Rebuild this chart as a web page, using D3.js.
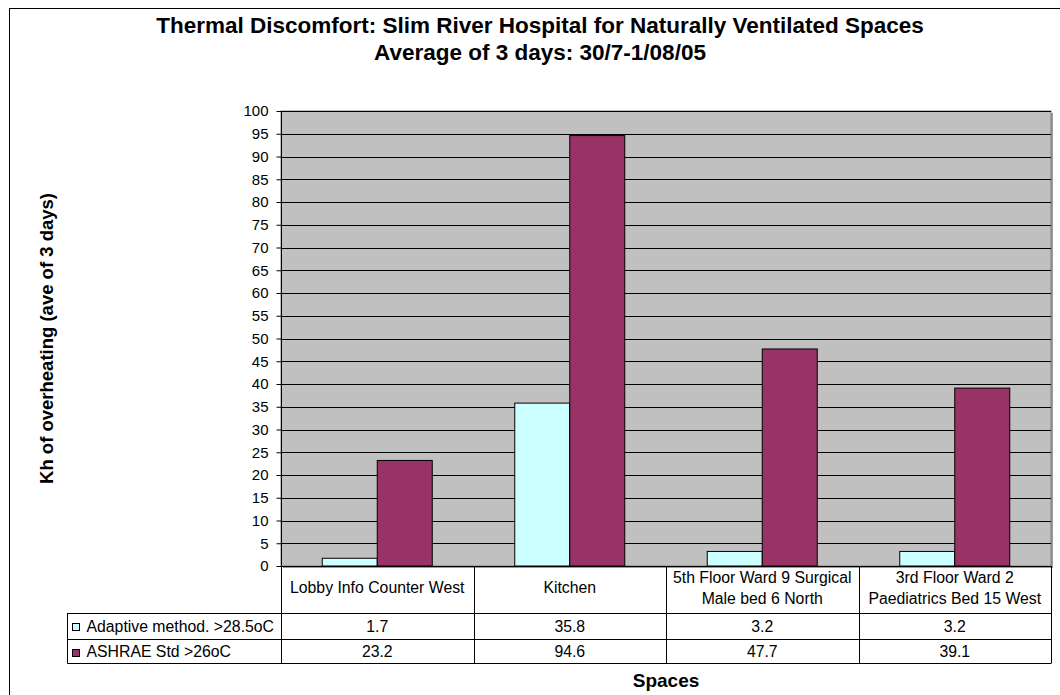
<!DOCTYPE html>
<html><head><meta charset="utf-8">
<script src="https://cdn.jsdelivr.net/npm/d3@7"></script>
<style>body{margin:0;background:#fff;}svg{display:block;font-family:"Liberation Sans",Arial,sans-serif;}</style>
</head><body>
<script>
const categories = [["Lobby Info Counter West"],["Kitchen"],["5th Floor Ward 9 Surgical","Male bed 6 North"],["3rd Floor Ward 2","Paediatrics Bed 15 West"]];
const seriesNames = ["Adaptive method. >28.5oC","ASHRAE Std >26oC"];
const adaptive = [1.7,35.8,3.2,3.2];
const ashrae = [23.2,94.6,47.7,39.1];
const valueLabels = [["1.7","35.8","3.2","3.2"],["23.2","94.6","47.7","39.1"]];
const yTicks = d3.range(0,101,5);
const colors = ["#ccffff","#993366"];
const series = [adaptive, ashrae];

const W=1060,H=695;
const svg=d3.select("body").append("svg").attr("width",W).attr("height",H);
svg.append("rect").attr("x",9.5).attr("y",8.5).attr("width",1100).attr("height",800).attr("fill","#fff").attr("stroke","#000").attr("stroke-width",1);

const L=281,R=1051,T=111,B=566;
const x=d3.scaleBand().domain(d3.range(categories.length)).range([L,R]).paddingInner(0).paddingOuter(0);
const y=d3.scaleLinear().domain([0,100]).range([B,T]);
const bw=x.bandwidth()/3.5;

// shadow
svg.append("rect").attr("x",L+2).attr("y",T+2).attr("width",R-L).attr("height",B-T).attr("fill","#9a9a9a");
svg.append("rect").attr("x",L).attr("y",T).attr("width",R-L).attr("height",B-T).attr("fill","#c0c0c0").attr("stroke","#808080");
svg.append("g").selectAll("line").data(yTicks.filter(d=>d>0)).join("line")
 .attr("x1",L).attr("x2",R).attr("y1",d=>Math.round(y(d))+0.5).attr("y2",d=>Math.round(y(d))+0.5).attr("stroke","#000");

series.forEach((s,si)=>{
  svg.append("g").selectAll("rect").data(s).join("rect")
   .attr("x",(d,i)=>x(i)+x.bandwidth()/2-bw+si*bw).attr("width",bw)
   .attr("y",d=>y(d)).attr("height",d=>B-y(d))
   .attr("fill",colors[si]).attr("stroke","#000").attr("stroke-width",1);
});

const yAxis=d3.axisLeft(y).tickValues(yTicks).tickSize(5).tickPadding(8);
const ga=svg.append("g").attr("transform",`translate(${L+0.5},0)`).call(yAxis);
ga.select(".domain").attr("stroke","#000").attr("d",`M0,${T}V${B}`);
ga.selectAll("text").attr("font-size",15).attr("font-family","Liberation Sans, Arial, sans-serif").attr("fill","#000");
ga.selectAll("line").attr("stroke","#000");

// table
const r0=B, r1=613, r2=639, r3=663, legL=67.5;
const tg=svg.append("g").attr("stroke","#000").attr("stroke-width",1);
tg.append("line").attr("x1",L).attr("x2",R).attr("y1",r0+0.5).attr("y2",r0+0.5);
[r1,r2,r3].forEach(r=>tg.append("line").attr("x1",legL).attr("x2",R).attr("y1",r+0.5).attr("y2",r+0.5));
tg.append("line").attr("x1",legL).attr("x2",legL).attr("y1",r1).attr("y2",r3+0.5);
d3.range(categories.length+1).forEach(i=>{
  const xx=Math.round(i<categories.length?x(i):R)+0.5;
  tg.append("line").attr("x1",xx).attr("x2",xx).attr("y1",r0).attr("y2",r3+0.5);
});
categories.forEach((c,i)=>{
  const cx=x(i)+x.bandwidth()/2;
  const t=svg.append("text").attr("x",cx).attr("text-anchor","middle").attr("font-size",15.8);
  const y0=c.length===1?593:583;
  c.forEach((ln,k)=>t.append("tspan").attr("x",cx).attr("y",y0+k*21).text(ln));
  valueLabels.forEach((vl,si)=>svg.append("text").attr("x",cx).attr("y",[632,657][si]).attr("text-anchor","middle").attr("font-size",15.8).text(vl[i]));
});
seriesNames.forEach((n,si)=>{
  svg.append("rect").attr("x",72.5).attr("y",[623.5,649.5][si]).attr("width",7).attr("height",7).attr("fill",colors[si]).attr("stroke","#000");
  svg.append("text").attr("x",86.5).attr("y",[632,657][si]).attr("font-size",15.8).text(n);
});

svg.append("text").attr("x",540).attr("y",33).attr("text-anchor","middle").attr("font-size",22.5).attr("font-weight","bold").text("Thermal Discomfort: Slim River Hospital for Naturally Ventilated Spaces");
svg.append("text").attr("x",540).attr("y",60).attr("text-anchor","middle").attr("font-size",22.5).attr("font-weight","bold").text("Average of 3 days: 30/7-1/08/05");
svg.append("text").attr("transform",`translate(53,${(T+B)/2}) rotate(-90)`).attr("text-anchor","middle").attr("font-size",18.5).attr("font-weight","bold").text("Kh of overheating (ave of 3 days)");
svg.append("text").attr("x",(L+R)/2).attr("y",687).attr("text-anchor","middle").attr("font-size",19).attr("font-weight","bold").text("Spaces");
</script>
</body></html>
